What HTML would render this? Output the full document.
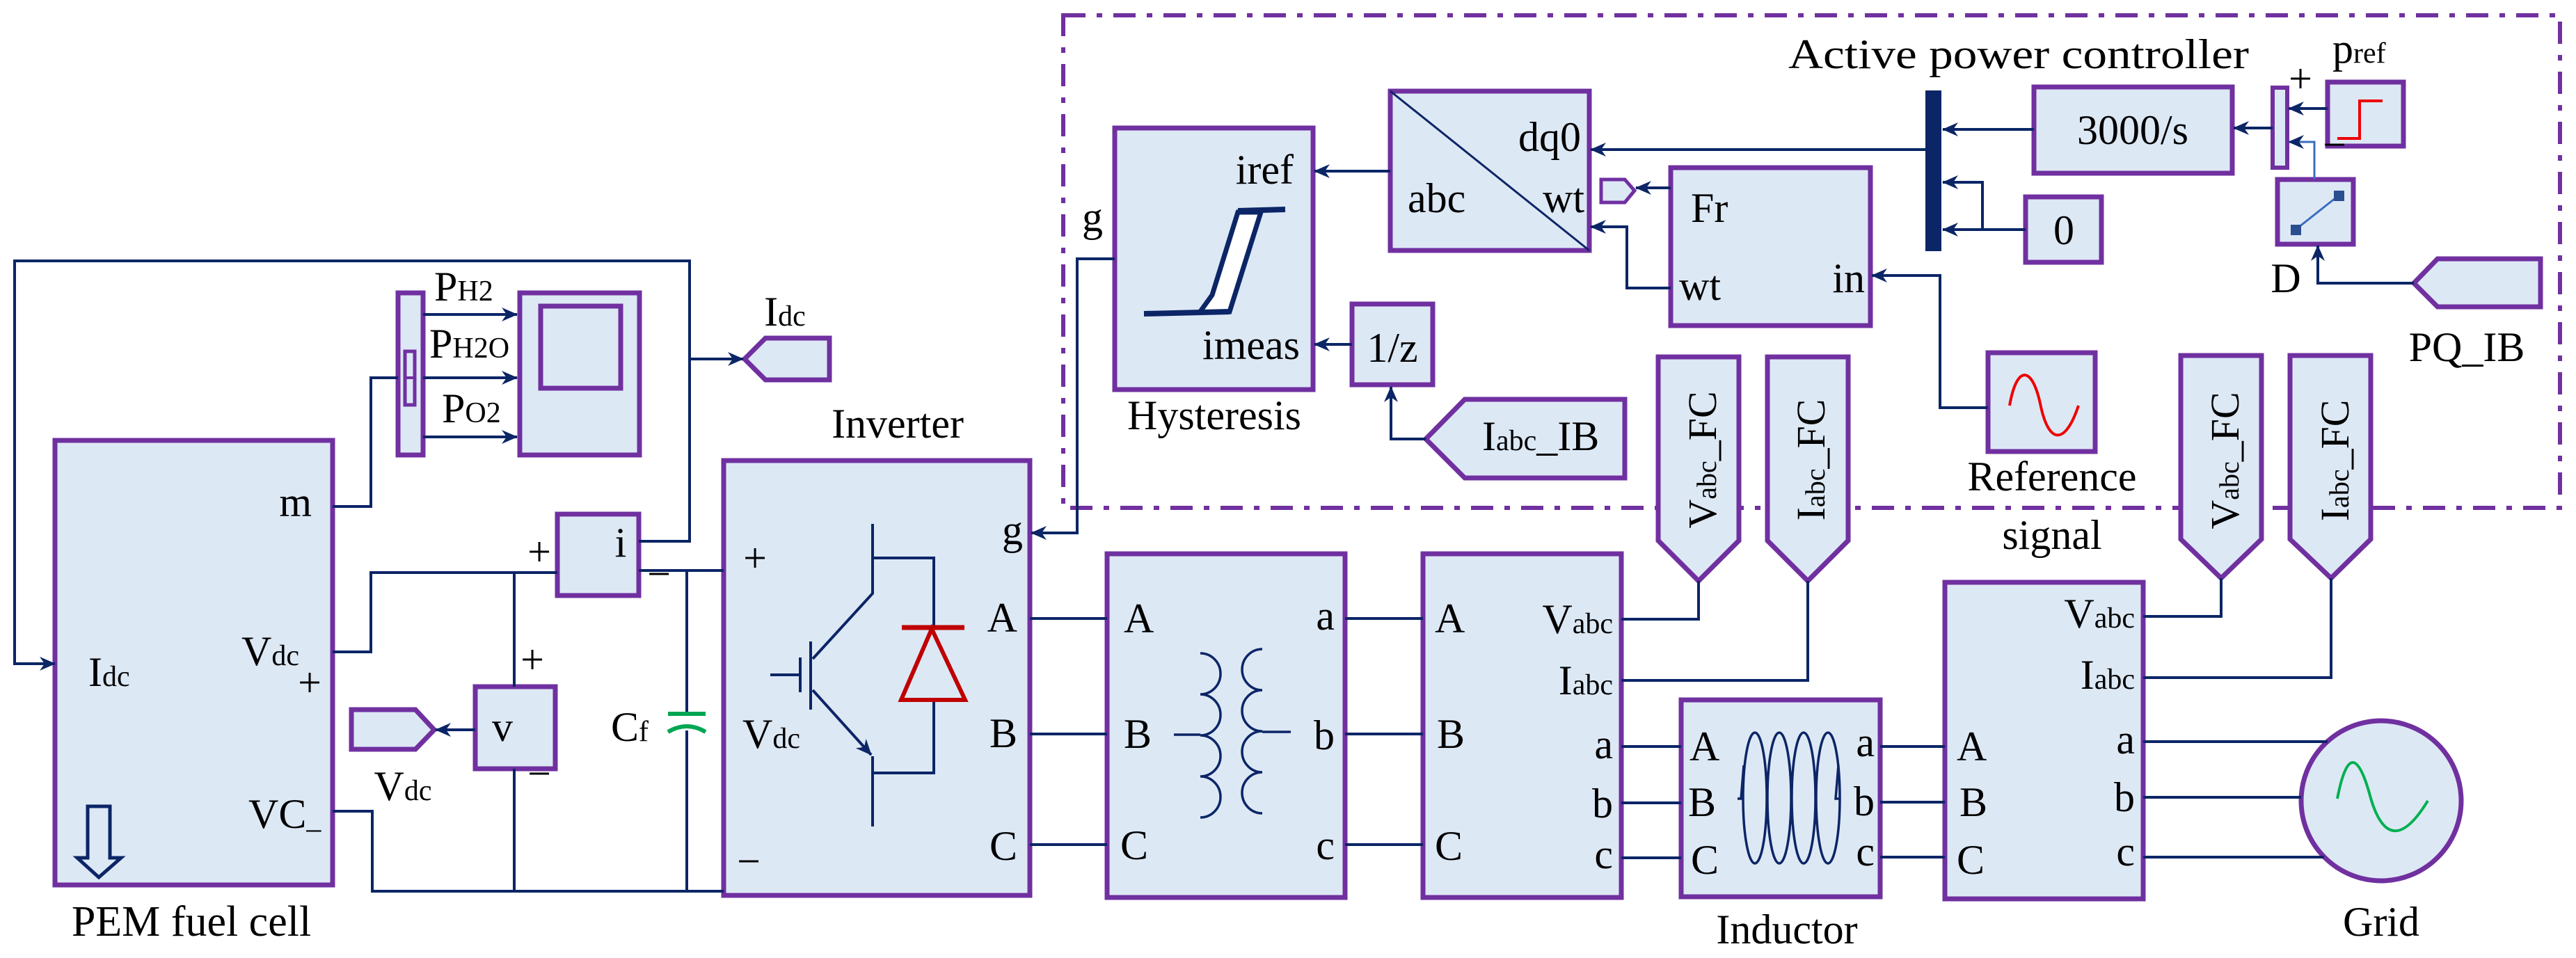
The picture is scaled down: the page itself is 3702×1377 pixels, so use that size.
<!DOCTYPE html>
<html><head><meta charset="utf-8"><style>
html,body{margin:0;padding:0;background:#fff;}
svg{display:block;}
text{font-family:"Liberation Serif",serif;fill:#000;}
</style></head><body>
<svg width="3702" height="1377" viewBox="0 0 3702 1377" xmlns="http://www.w3.org/2000/svg">
<defs>
<marker id="a" markerWidth="26" markerHeight="22" refX="22" refY="11" orient="auto" markerUnits="userSpaceOnUse"><path d="M0,1 L23,11 L0,21 L7,11z" fill="#0b2566"/></marker>
</defs>
<!-- dashed controller box -->
<rect x="1528" y="22" width="2151" height="708" fill="none" stroke="#7030a0" stroke-width="6" stroke-dasharray="32,16,8,16"/>

<g fill="#dde8f5" stroke="#7030a0" stroke-width="7">
<!-- PEM -->
<rect x="79" y="633" width="399" height="639"/>
<rect x="572" y="421" width="36" height="233"/>
<rect x="747" y="421" width="172" height="233"/>
<rect x="777" y="440" width="115" height="118" fill="none"/>
<rect x="801" y="739" width="117" height="117"/>
<rect x="683" y="987" width="115" height="118"/>
<polygon points="505,1020 597,1020 624,1049 597,1077 505,1077"/>
<polygon points="1070,516 1100,486 1192,486 1192,546 1100,546"/>
<!-- inverter chain -->
<rect x="1040" y="662" width="440" height="625"/>
<rect x="1591" y="796" width="342" height="494"/>
<rect x="2045" y="796" width="285" height="494"/>
<rect x="2416" y="1006" width="286" height="283"/>
<rect x="2795" y="837" width="285" height="455"/>
<circle cx="3422" cy="1151" r="115"/>
<!-- tags -->
<polygon points="2383,513 2499,513 2499,777 2441,835 2383,777"/>
<polygon points="2540,513 2656,513 2656,777 2598,835 2540,777"/>
<polygon points="3134,511 3250,511 3250,775 3192,831 3134,775"/>
<polygon points="3291,511 3407,511 3407,775 3350,831 3291,775"/>
<!-- controller -->
<rect x="1602" y="184" width="285" height="376"/>
<rect x="1998" y="131" width="286" height="229"/>
<rect x="2401" y="241" width="287" height="227"/>
<rect x="1943" y="437" width="116" height="116"/>
<polygon points="2049,631 2105,574 2335,574 2335,687 2105,687"/>
<polygon points="2301,258 2335,258 2349,274 2335,291 2301,291" stroke-width="5"/>
<rect x="2857" y="507" width="154" height="142"/>
<rect x="2923" y="125" width="285" height="124"/>
<rect x="2911" y="283" width="109" height="94"/>
<rect x="3266" y="126" width="21" height="115" stroke-width="6"/>
<rect x="3345" y="118" width="109" height="92"/>
<rect x="3273" y="258" width="109" height="93"/>
<polygon points="3469,407 3503,372 3651,372 3651,441 3503,441"/>
</g>
<rect x="582" y="505" width="14" height="77" fill="none" stroke="#7030a0" stroke-width="5"/>
<line x1="582" y1="543" x2="596" y2="543" stroke="#7030a0" stroke-width="4"/>
<rect x="2767" y="130" width="23" height="231" fill="#0b2566"/>

<g fill="none" stroke="#0b2566" stroke-width="4">
<polyline points="918,778 991,778 991,375 21,375 21,954 79,954" marker-end="url(#a)"/>
<line x1="991" y1="516" x2="1068" y2="516" marker-end="url(#a)"/>
<polyline points="478,728 533,728 533,543 572,543"/>
<line x1="608" y1="452" x2="743" y2="452" marker-end="url(#a)"/>
<line x1="608" y1="543" x2="743" y2="543" marker-end="url(#a)"/>
<line x1="608" y1="628" x2="743" y2="628" marker-end="url(#a)"/>
<polyline points="478,937 533,937 533,823 801,823"/>
<line x1="739" y1="823" x2="739" y2="987"/>
<line x1="739" y1="1105" x2="739" y2="1281"/>
<polyline points="478,1166 535,1166 535,1281 1040,1281"/>
<line x1="918" y1="820" x2="1040" y2="820"/>
<line x1="987" y1="820" x2="987" y2="1026"/>
<line x1="987" y1="1050" x2="987" y2="1281"/>
<line x1="683" y1="1049" x2="626" y2="1049" marker-end="url(#a)"/>
<polyline points="1602,372 1548,372 1548,766 1482,766" marker-end="url(#a)"/>
<line x1="1480" y1="889" x2="1591" y2="889"/><line x1="1480" y1="1055" x2="1591" y2="1055"/><line x1="1480" y1="1214" x2="1591" y2="1214"/>
<line x1="1933" y1="889" x2="2045" y2="889"/><line x1="1933" y1="1055" x2="2045" y2="1055"/><line x1="1933" y1="1214" x2="2045" y2="1214"/>
<polyline points="2330,890 2441,890 2441,835"/>
<polyline points="2330,978 2598,978 2598,835"/>
<line x1="2330" y1="1073" x2="2416" y2="1073"/><line x1="2330" y1="1154" x2="2416" y2="1154"/><line x1="2330" y1="1233" x2="2416" y2="1233"/>
<line x1="2702" y1="1073" x2="2795" y2="1073"/><line x1="2702" y1="1153" x2="2795" y2="1153"/><line x1="2702" y1="1232" x2="2795" y2="1232"/>
<polyline points="3080,886 3192,886 3192,831"/>
<polyline points="3080,974 3350,974 3350,831"/>
<line x1="3080" y1="1066" x2="3345" y2="1066"/><line x1="3080" y1="1146" x2="3307" y2="1146"/><line x1="3080" y1="1232" x2="3340" y2="1232"/>
<line x1="1998" y1="246" x2="1889" y2="246" marker-end="url(#a)"/>
<line x1="1943" y1="495" x2="1889" y2="495" marker-end="url(#a)"/>
<polyline points="2049,631 1999,631 1999,556" marker-end="url(#a)"/>
<line x1="2767" y1="215" x2="2286" y2="215" marker-end="url(#a)"/>
<line x1="2401" y1="270" x2="2351" y2="270" marker-end="url(#a)"/>
<polyline points="2401,414 2338,414 2338,326 2286,326" marker-end="url(#a)"/>
<line x1="2923" y1="186" x2="2792" y2="186" marker-end="url(#a)"/>
<line x1="2911" y1="330" x2="2792" y2="330" marker-end="url(#a)"/>
<polyline points="2849,330 2849,262 2792,262" marker-end="url(#a)"/>
<polyline points="2857,586 2788,586 2788,396 2690,396" marker-end="url(#a)"/>
<line x1="3266" y1="184" x2="3210" y2="184" marker-end="url(#a)"/>
<line x1="3345" y1="156" x2="3289" y2="156" marker-end="url(#a)"/>
<polyline points="3469,407 3331,407 3331,353" marker-end="url(#a)"/>
<polyline points="3326,258 3326,204 3289,204" stroke="#3a6cc0" stroke-width="3" marker-end="url(#a)"/>
<!-- abc/dq0 diagonal -->
<line x1="1998" y1="131" x2="2284" y2="360" stroke-width="3"/>
<!-- IGBT -->
<polyline points="1254,753 1254,853 1168,947"/>
<line x1="1165" y1="922" x2="1165" y2="1020"/>
<line x1="1150" y1="945" x2="1150" y2="995"/>
<line x1="1107" y1="970" x2="1150" y2="970"/>
<line x1="1168" y1="992" x2="1252" y2="1085" marker-end="url(#a)"/>
<line x1="1254" y1="1087" x2="1254" y2="1188"/>
<polyline points="1254,802 1342,802 1342,902"/>
<polyline points="1342,1006 1342,1111 1254,1111"/>
<!-- transformer coils -->
<path d="M1725,939 a29,29.5 0 0 1 0,59 a29,29.5 0 0 1 0,59 a29,29.5 0 0 1 0,59 a29,29.5 0 0 1 0,59" stroke-width="3.5"/>
<path d="M1814,933 a29,29.5 0 0 0 0,59 a29,29.5 0 0 0 0,59 a29,29.5 0 0 0 0,59 a29,29.5 0 0 0 0,59" stroke-width="3.5"/>
<line x1="1687" y1="1056" x2="1725" y2="1056" stroke-width="3.5"/>
<line x1="1814" y1="1052" x2="1855" y2="1052" stroke-width="3.5"/>
<!-- inductor coil -->
<g stroke-width="3.5">
<ellipse cx="2522" cy="1147" rx="17" ry="94"/>
<ellipse cx="2557" cy="1147" rx="17" ry="94"/>
<ellipse cx="2592" cy="1147" rx="17" ry="94"/>
<ellipse cx="2627" cy="1147" rx="17" ry="94"/>
<polyline points="2497,1148 2502,1148 2506,1100"/>
<polyline points="2644,1148 2638,1148 2642,1100"/>
</g>
<!-- PEM down arrow -->
<polygon points="126,1159 158,1159 158,1233 174,1233 142,1261 111,1233 126,1233" stroke-width="5"/>
</g>
<!-- diode -->
<polygon points="1339,904 1295,1006 1387,1006" fill="none" stroke="#c00000" stroke-width="6"/>
<line x1="1296" y1="902" x2="1386" y2="902" stroke="#c00000" stroke-width="7"/>
<!-- capacitor -->
<line x1="960" y1="1026" x2="1014" y2="1026" stroke="#00a651" stroke-width="6"/>
<path d="M960,1052 Q987,1036 1014,1052" fill="none" stroke="#00a651" stroke-width="6"/>
<!-- hysteresis symbol -->
<polygon points="1724,449 1742,424 1779,305 1812,305 1767,448" fill="#fff" stroke="#0b2566" stroke-width="7"/>
<line x1="1644" y1="451" x2="1767" y2="448" stroke="#0b2566" stroke-width="8"/>
<line x1="1779" y1="303" x2="1847" y2="301" stroke="#0b2566" stroke-width="8"/>
<!-- sines / step -->
<path d="M2888,583 C2898,525 2920,525 2932,580 C2944,640 2968,640 2987,583" fill="none" stroke="#e00" stroke-width="4"/>
<path d="M3359,1148 C3372,1080 3388,1080 3405,1140 C3422,1205 3450,1215 3489,1151" fill="none" stroke="#00b050" stroke-width="4"/>
<polyline points="3359,199 3391,199 3391,145 3424,145" fill="none" stroke="#e00" stroke-width="4"/>
<line x1="3299" y1="330" x2="3361" y2="281" stroke="#3a6cc0" stroke-width="3"/>
<rect x="3292" y="323" width="15" height="15" fill="#2a4f8f"/>
<rect x="3354" y="274" width="15" height="15" fill="#2a4f8f"/>

<g font-size="60">
<!-- PEM area -->
<text x="448" y="742" text-anchor="end">m</text>
<text x="430" y="956" text-anchor="end">V<tspan font-size="42">dc</tspan></text>
<text x="445" y="1001" text-anchor="middle">+</text>
<text x="127" y="986">I<tspan font-size="42">dc</tspan></text>
<text x="357" y="1190">VC<tspan font-size="42">_</tspan></text>
<text x="275" y="1345" text-anchor="middle" font-size="62">PEM fuel cell</text>
<text x="624" y="432">P<tspan font-size="42">H2</tspan></text>
<text x="617" y="514">P<tspan font-size="42">H2O</tspan></text>
<text x="635" y="607">P<tspan font-size="42">O2</tspan></text>
<text x="1128" y="468" text-anchor="middle">I<tspan font-size="42">dc</tspan></text>
<text x="892" y="800" text-anchor="middle">i</text>
<text x="775" y="813" text-anchor="middle">+</text>
<text x="947" y="845" text-anchor="middle">−</text>
<text x="722" y="1065" text-anchor="middle">v</text>
<text x="765" y="968" text-anchor="middle">+</text>
<text x="775" y="1132" text-anchor="middle">−</text>
<text x="579" y="1150" text-anchor="middle">V<tspan font-size="42">dc</tspan></text>
<text x="905" y="1065" text-anchor="middle">C<tspan font-size="42">f</tspan></text>
<!-- inverter -->
<text x="1290" y="629" text-anchor="middle">Inverter</text>
<text x="1085" y="822" text-anchor="middle">+</text>
<text x="1067" y="1075">V<tspan font-size="42">dc</tspan></text>
<text x="1076" y="1258" text-anchor="middle">−</text>
<text x="1470" y="782" text-anchor="end">g</text>
<text x="1462" y="908" text-anchor="end">A</text>
<text x="1462" y="1074" text-anchor="end">B</text>
<text x="1462" y="1236" text-anchor="end">C</text>
<!-- transformer -->
<text x="1615" y="909">A</text><text x="1615" y="1075">B</text><text x="1610" y="1235">C</text>
<text x="1918" y="905" text-anchor="end">a</text><text x="1918" y="1077" text-anchor="end">b</text><text x="1918" y="1235" text-anchor="end">c</text>
<!-- meas 1 -->
<text x="2062" y="909">A</text><text x="2065" y="1075">B</text><text x="2062" y="1236">C</text>
<text x="2318" y="910" text-anchor="end">V<tspan font-size="42">abc</tspan></text>
<text x="2318" y="998" text-anchor="end">I<tspan font-size="42">abc</tspan></text>
<text x="2318" y="1090" text-anchor="end">a</text><text x="2318" y="1175" text-anchor="end">b</text><text x="2318" y="1248" text-anchor="end">c</text>
<!-- inductor -->
<text x="2428" y="1093">A</text><text x="2426" y="1173">B</text><text x="2430" y="1256">C</text>
<text x="2694" y="1087" text-anchor="end">a</text><text x="2694" y="1172" text-anchor="end">b</text><text x="2694" y="1244" text-anchor="end">c</text>
<text x="2568" y="1356" text-anchor="middle">Inductor</text>
<!-- meas 2 -->
<text x="2812" y="1093">A</text><text x="2816" y="1173">B</text><text x="2812" y="1256">C</text>
<text x="3068" y="902" text-anchor="end">V<tspan font-size="42">abc</tspan></text>
<text x="3068" y="990" text-anchor="end">I<tspan font-size="42">abc</tspan></text>
<text x="3068" y="1083" text-anchor="end">a</text><text x="3068" y="1166" text-anchor="end">b</text><text x="3068" y="1244" text-anchor="end">c</text>
<text x="3422" y="1345" text-anchor="middle">Grid</text>
<!-- tags rotated -->
<text transform="translate(2466,661) rotate(-90)" text-anchor="middle" font-size="58">V<tspan font-size="40">abc</tspan>_FC</text>
<text transform="translate(2622,661) rotate(-90)" text-anchor="middle" font-size="58">I<tspan font-size="40">abc</tspan>_FC</text>
<text transform="translate(3217,662) rotate(-90)" text-anchor="middle" font-size="58">V<tspan font-size="40">abc</tspan>_FC</text>
<text transform="translate(3375,662) rotate(-90)" text-anchor="middle" font-size="58">I<tspan font-size="40">abc</tspan>_FC</text>
<!-- controller -->
<text x="1859" y="264" text-anchor="end">iref</text>
<text x="1868" y="516" text-anchor="end">imeas</text>
<text x="1570" y="332" text-anchor="middle">g</text>
<text x="1745" y="617" text-anchor="middle">Hysteresis</text>
<text x="2272" y="217" text-anchor="end">dq0</text>
<text x="2023" y="305">abc</text>
<text x="2277" y="305" text-anchor="end">wt</text>
<text x="2430" y="319">Fr</text>
<text x="2413" y="431">wt</text>
<text x="2680" y="420" text-anchor="end">in</text>
<text x="2001" y="520" text-anchor="middle">1/z</text>
<text x="2130" y="647">I<tspan font-size="42">abc</tspan>_IB</text>
<text x="2570" y="98" textLength="662" lengthAdjust="spacingAndGlyphs">Active power controller</text>
<text x="3065" y="207" text-anchor="middle">3000/s</text>
<text x="2966" y="351" text-anchor="middle">0</text>
<text x="3352" y="90">p<tspan font-size="42">ref</tspan></text>
<text x="3306" y="133" text-anchor="middle">+</text>
<text x="3355" y="228" text-anchor="middle">−</text>
<text x="3285" y="420" text-anchor="middle">D</text>
<text x="3545" y="519" text-anchor="middle">PQ_IB</text>
<text x="2949" y="705" text-anchor="middle">Reference</text>
<text x="2949" y="789" text-anchor="middle">signal</text>
</g>
</svg>
</body></html>
